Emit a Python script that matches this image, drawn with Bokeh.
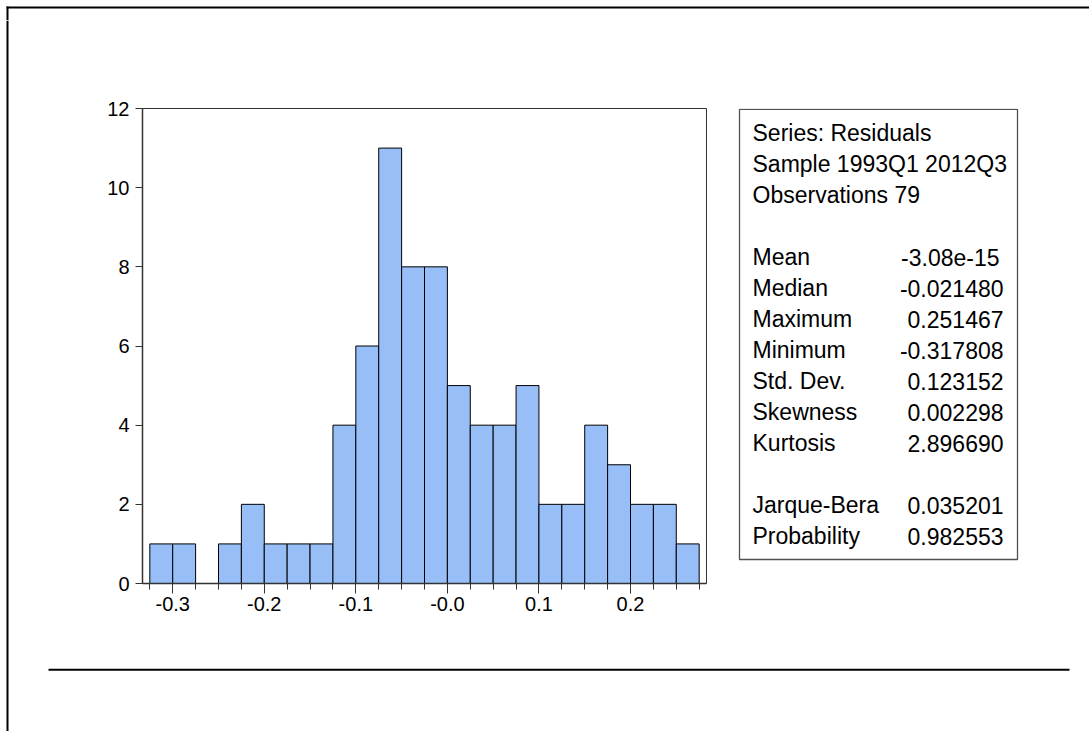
from bokeh.plotting import figure
from bokeh.models import Range1d, FixedTicker, BoxAnnotation, Label
from bokeh.layouts import column, row
from bokeh.embed import file_html
from bokeh.resources import INLINE

# ---------------- data ----------------
bin_width = 0.025
bin_lo = [-0.325, -0.300, -0.275, -0.250, -0.225, -0.200, -0.175, -0.150,
          -0.125, -0.100, -0.075, -0.050, -0.025, 0.000, 0.025, 0.050,
          0.075, 0.100, 0.125, 0.150, 0.175, 0.200, 0.225, 0.250]
counts = [1, 1, 0, 1, 2, 1, 1, 1, 4, 6, 11, 8, 8, 5, 4, 4, 5, 2, 2, 4, 3, 2, 2, 1]

x_ticks = [-0.3, -0.2, -0.1, 0.0, 0.1, 0.2]
x_tick_labels = ["-0.3", "-0.2", "-0.1", "-0.0", "0.1", "0.2"]
y_ticks = [0, 2, 4, 6, 8, 10, 12]
y_tick_labels = ["0", "2", "4", "6", "8", "10", "12"]

header_lines = ["Series: Residuals", "Sample 1993Q1 2012Q3", "Observations 79"]
stat_names = ["Mean", "Median", "Maximum", "Minimum", "Std. Dev.", "Skewness", "Kurtosis"]
stat_values = ["-3.08e-15", "-0.021480", "0.251467", "-0.317808", "0.123152", "0.002298", "2.896690"]
test_names = ["Jarque-Bera", "Probability"]
test_values = ["0.035201", "0.982553"]

FONT = "Liberation Sans"


def tile(x0, y0, w, h, top=0, bottom=0):
    """A blank figure; its frame spans page x x0..x0+w and page y y0+top..y0+h-bottom."""
    f = figure(width=w, height=h, output_backend="svg", toolbar_location=None,
               x_range=Range1d(x0, x0 + w),
               y_range=Range1d(y0 + h - bottom, y0 + top),
               x_axis_type=None, y_axis_type=None,
               min_border=0, min_border_left=0, min_border_right=0,
               min_border_top=top, min_border_bottom=bottom)
    f.outline_line_color = None
    f.xgrid.visible = False
    f.ygrid.visible = False
    f.background_fill_color = "white"
    f.border_fill_color = "white"
    return f


def box(f, l, r, t, b, **kw):
    f.add_layout(BoxAnnotation(left=l, right=r, top=t, bottom=b, **kw))


def bar_line(f, l, r, t, b):
    box(f, l, r, t, b, fill_color="black", fill_alpha=1, line_alpha=0)


# ---------------- histogram (page x 20..730, y 20..660) ----------------
HX0, HY0, HW, HH = 20, 20, 710, 640
FL, FR, FT, FB = 142, 706, 108, 583  # frame edges in page pixels
h = figure(width=HW, height=HH, output_backend="svg", toolbar_location=None,
           x_range=Range1d(-0.333, 0.283), y_range=Range1d(0, 12),
           min_border_left=FL - HX0, min_border_top=FT - HY0,
           min_border_right=HX0 + HW - FR, min_border_bottom=HY0 + HH - FB)
h.background_fill_color = "white"
h.border_fill_color = "white"
h.outline_line_color = "#333333"
h.outline_line_width = 1
h.xgrid.visible = False
h.ygrid.visible = False

bin_hi = [b + bin_width for b in bin_lo]
edges = bin_lo + [bin_hi[-1]]
h.quad(left=bin_lo, right=bin_hi, bottom=0, top=counts,
       fill_color="#98BEF8", line_color="#000000", line_width=1)

xa = h.xaxis[0]
xa.ticker = FixedTicker(ticks=x_ticks, minor_ticks=edges)
xa.major_label_overrides = {t: s for t, s in zip(x_ticks, x_tick_labels)}
xa.major_tick_out = 10
xa.major_tick_in = 0
xa.minor_tick_out = 6
xa.minor_tick_in = 0
xa.major_label_standoff = 3

ya = h.yaxis[0]
ya.ticker = FixedTicker(ticks=y_ticks, minor_ticks=[])
ya.major_label_overrides = {t: s for t, s in zip(y_ticks, y_tick_labels)}
ya.major_tick_out = 7
ya.major_tick_in = 0
ya.major_label_standoff = 6

for ax in (xa, ya):
    ax.axis_line_color = "#333333"
    ax.axis_line_width = 1.5
    ax.major_tick_line_color = "#333333"
    ax.minor_tick_line_color = "#333333"
    ax.major_label_text_font = FONT
    ax.major_label_text_font_size = "20px"
    ax.major_label_text_color = "black"

# ---------------- statistics panel (page x 730..1089, y 20..660) ----------------
# its frame is aligned with the histogram frame by the row layout (page y 108..583)
s = tile(730, 20, 359, 640, top=FT - HY0, bottom=HY0 + HH - FB)
box(s, 739, 1017, 108.9, 559, fill_color="white", fill_alpha=1,
    line_color="#505050", line_alpha=1, line_width=1.3)


def label(x, rowi, text, align="left"):
    s.add_layout(Label(x=x, y=132.5 + 31 * rowi, text=text,
                       text_font=FONT, text_font_size="23px",
                       text_color="black", text_align=align,
                       text_baseline="middle"))


for i, t in enumerate(header_lines):
    label(752, i, t)
for i, (n, v) in enumerate(zip(stat_names, stat_values)):
    label(752, 4 + i, n)
    label(1003 - (4 if i == 0 else 0), 4 + i, v, "right")
for i, (n, v) in enumerate(zip(test_names, test_values)):
    label(752, 12 + i, n)
    label(1003, 12 + i, v, "right")

# ---------------- frame decorations ----------------
top = tile(0, 0, 1089, 20)
bar_line(top, 6, 1089, 6, 8)
bar_line(top, 6, 8, 6, 20)

left = tile(0, 20, 20, 711)
bar_line(left, 6, 8, 20, 731)

bottom = tile(20, 660, 1069, 71)
bar_line(bottom, 48, 1069, 668.3, 670.3)

layout = column(top,
                row(left,
                    column(row(h, s), bottom)))

open("out.html", "w").write(file_html(layout, INLINE))
